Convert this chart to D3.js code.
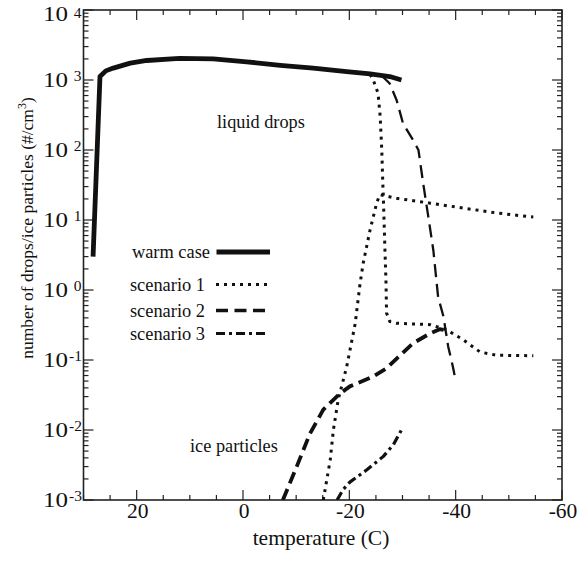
<!DOCTYPE html>
<html><head><meta charset="utf-8">
<script src="https://cdn.jsdelivr.net/npm/d3@7"></script>
<style>body{margin:0;background:#fff}svg{display:block}text{font-family:"Liberation Serif","Times New Roman",serif;fill:#111}</style>
</head><body><svg id="c" width="577" height="562"></svg>
<script>
// ---- data (temperature in C, number concentration #/cm3) ----
const warmT = [28.2, 26.9, 25.8, 24.4, 21.2, 18.1, 11.9, 5.6, -0.7, -7.0, -13.2, -19.5, -23.9, -27.6, -29.8];
const warmN = [3.0, 1120, 1350, 1480, 1740, 1900, 2040, 2000, 1820, 1620, 1480, 1320, 1220, 1120, 1000];

const s1LiqT = [-23.9, -24.5, -25.4, -25.8, -26.1, -26.3, -26.4, -26.7, -26.9, -27.0, -27.6, -28.9, -35.2, -38.3, -41.4, -44.6, -47.7, -54.6];
const s1LiqN = [1200, 1000, 646, 302, 100, 33, 21, 3.7, 1.26, 0.47, 0.355, 0.335, 0.32, 0.27, 0.195, 0.13, 0.117, 0.115];
const s1IceT = [-15.1, -16.4, -17.0, -17.9, -19.5, -21.1, -22.0, -22.6, -23.9, -25.1, -25.7, -28.9, -35.2, -41.4, -47.7, -54.6];
const s1IceN = [0.001, 0.0037, 0.010, 0.027, 0.08, 0.33, 1.2, 2.4, 7.2, 17, 23, 20.4, 17.4, 14.8, 12.6, 11.0];

const s2LiqT = [-26.0, -27.6, -28.9, -30.1, -32.0, -33.0, -33.9, -34.85, -35.8, -36.7, -37.7, -38.6, -39.5, -39.9];
const s2LiqN = [1170, 890, 513, 240, 138, 100, 33, 11.2, 3.7, 0.79, 0.42, 0.155, 0.079, 0.055];
const s2IceT = [-7.5, -10.1, -12.6, -15.1, -17.0, -18.2, -20.1, -24.5, -27.0, -28.9, -32.0, -35.2, -37.0, -38.6];
const s2IceN = [0.001, 0.0030, 0.0089, 0.0195, 0.027, 0.033, 0.042, 0.058, 0.076, 0.105, 0.174, 0.24, 0.275, 0.263];

const s3IceT = [-17.7, -18.8, -20.1, -23.3, -26.4, -28.3, -29.8];
const s3IceN = [0.001, 0.0014, 0.0018, 0.0027, 0.0042, 0.0062, 0.0100];

const xTicks = [20, 0, -20, -40, -60];
const yExps = [-3, -2, -1, 0, 1, 2, 3, 4];
const legendLabels = ["warm case", "scenario 1", "scenario 2", "scenario 3"];
const xLabel = "temperature (C)";
const yLabel = "number of drops/ice particles (#/cm";
const notes = ["liquid drops", "ice particles"];

// ---- layout ----
const L = 83.5, R = 562, T = 10, B = 500;
const svg = d3.select("#c");
const x = d3.scaleLinear().domain([30, -60]).range([L, R]);
const y = d3.scaleLog().domain([1e-3, 1e4]).range([B, T]);

const defs = svg.append("defs");
defs.append("clipPath").attr("id", "clip").append("rect").attr("x", L).attr("y", T).attr("width", R - L).attr("height", B - T);

// ticks
const minorX = d3.range(30, -60.1, -5);
const frameCol = "#222";
const tg = svg.append("g").attr("stroke", frameCol).attr("stroke-width", 1.2);
minorX.forEach(v => {
  const major = xTicks.includes(v);
  const len = major ? 10 : 5;
  tg.append("line").attr("x1", x(v)).attr("x2", x(v)).attr("y1", B).attr("y2", B - len);
  tg.append("line").attr("x1", x(v)).attr("x2", x(v)).attr("y1", T).attr("y2", T + len);
});
yExps.forEach(e => {
  for (let k = 1; k <= 9; k++) {
    const v = k * Math.pow(10, e);
    if (v > 1e4) break;
    const len = k === 1 ? 10 : 5;
    tg.append("line").attr("x1", L).attr("x2", L + len).attr("y1", y(v)).attr("y2", y(v));
    tg.append("line").attr("x1", R).attr("x2", R - len).attr("y1", y(v)).attr("y2", y(v));
  }
});
svg.append("rect").attr("x", L).attr("y", T).attr("width", R - L).attr("height", B - T)
  .attr("fill", "none").attr("stroke", frameCol).attr("stroke-width", 1.6);

// x tick labels
xTicks.forEach(v => {
  svg.append("text").attr("x", x(v) + 1).attr("y", B + 18).attr("text-anchor", "middle")
    .attr("font-size", 21.5).text(v);
});
// y tick labels (base "10" + superscript exponent)
yExps.forEach(e => {
  const ty = y(Math.pow(10, e));
  const top = e === 4;
  const base = top ? 21 : ty + 7;
  svg.append("text").attr("x", 43).attr("y", base).attr("font-size", 21)
    .attr("textLength", 25).attr("lengthAdjust", "spacingAndGlyphs").text("10");
  svg.append("text").attr("x", e < 0 ? 82 : 81.5).attr("y", top ? 17.5 : ty + 0.5).attr("text-anchor", "end")
    .attr("font-size", 15.5).text(e < 0 ? "-" + Math.abs(e) : e);
});
// axis labels
svg.append("text").attr("x", 321).attr("y", 545).attr("text-anchor", "middle").attr("font-size", 21.5).text(xLabel);
const yl = svg.append("text").attr("transform", "translate(33,228) rotate(-90)").attr("text-anchor", "middle").attr("font-size", 17.5);
yl.append("tspan").text(yLabel);
yl.append("tspan").attr("font-size", 12).attr("dy", -7).text("3");
yl.append("tspan").attr("dy", 7).text(")");

// annotations
svg.append("text").attr("x", 217).attr("y", 128).attr("font-size", 18.3).text(notes[0]);
svg.append("text").attr("x", 190).attr("y", 452).attr("font-size", 18.3).text(notes[1]);

// curves
const line = d3.line().x(d => x(d[0])).y(d => y(d[1]));
const plot = svg.append("g").attr("clip-path", "url(#clip)").attr("fill", "none").attr("stroke", "#111");
const zip = (a, b) => a.map((v, i) => [v, b[i]]);
const styles = {
  warm: {w: 4.8, dash: null},
  s1: {w: 3, dash: "3,5"},
  s2l: {w: 2.3, dash: "13,7"},
  s2i: {w: 3.8, dash: "12,6"},
  s3: {w: 3.2, dash: "9,4,3,4"}
};
function draw(T, N, st) {
  plot.append("path").datum(zip(T, N)).attr("d", line)
    .attr("stroke-width", st.w).attr("stroke-dasharray", st.dash)
    .attr("stroke-linejoin", "round");
}
draw(s1LiqT, s1LiqN, styles.s1);
draw(s1IceT, s1IceN, styles.s1);
draw(s2LiqT, s2LiqN, styles.s2l);
draw(s2IceT, s2IceN, styles.s2i);
draw(s3IceT, s3IceN, styles.s3);
draw(warmT, warmN, styles.warm);

// legend
const leg = [
  {y: 252, st: {w: 5, dash: null}},
  {y: 284.5, st: {w: 3, dash: "3,5"}},
  {y: 310.5, st: {w: 3.4, dash: "12,6.5"}},
  {y: 333.5, st: {w: 3, dash: "9,4,3,4"}}
];
leg.forEach((d, i) => {
  svg.append("text").attr("x", i === 0 ? 210 : 205).attr("y", d.y + 6).attr("text-anchor", "end")
    .attr("font-size", 18.4).text(legendLabels[i]);
  svg.append("line").attr("x1", i === 0 ? 216.5 : 216).attr("x2", i < 2 ? 270 : 265).attr("y1", d.y).attr("y2", d.y)
    .attr("stroke", "#111").attr("stroke-width", d.st.w).attr("stroke-dasharray", d.st.dash);
});
</script></body></html>
